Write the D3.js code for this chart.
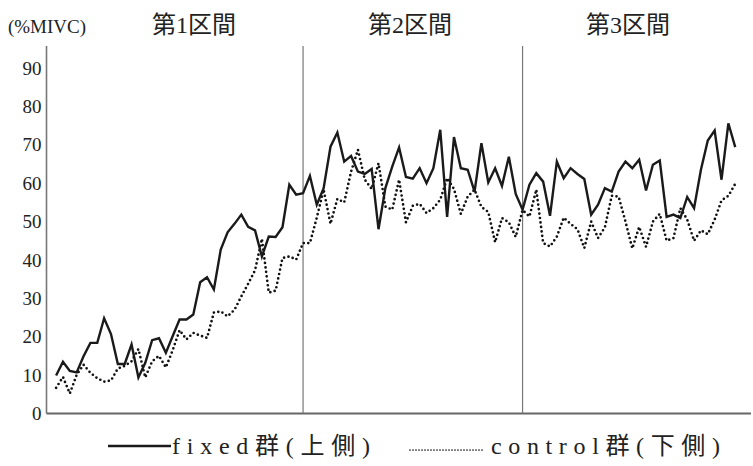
<!DOCTYPE html>
<html>
<head>
<meta charset="utf-8">
<script src="https://cdn.jsdelivr.net/npm/d3@7"></script>
<style>
  html, body { margin: 0; padding: 0; background: #fff; }
  svg { display: block; }
</style>
</head>
<body>
<svg id="chart" width="753" height="466"></svg>
<script>
// Muscle activity (%MIVC) over 100 samples, two groups
const fixedValues = [
  9.9, 13.5, 11.1, 10.7, 14.9, 18.4, 18.4, 24.8, 20.7, 12.9,
  12.9, 18.0, 9.4, 13.2, 19.1, 19.6, 15.8, 20.2, 24.5, 24.5,
  25.8, 34.2, 35.5, 32.3, 42.7, 47.2, 49.4, 51.8, 48.6, 47.7,
  40.9, 46.1, 46.0, 48.5, 59.6, 57.0, 57.4, 61.9, 54.4, 58.7,
  69.5, 73.2, 65.6, 67.1, 63.0, 62.4, 63.7, 48.0, 58.7, 64.3,
  69.3, 61.6, 61.2, 63.9, 60.0, 63.9, 73.9, 51.2, 72.0, 63.9,
  63.5, 57.8, 70.4, 60.2, 63.9, 59.3, 66.9, 57.2, 53.1, 59.6,
  62.6, 60.4, 51.5, 65.6, 61.3, 63.9, 62.4, 61.1, 51.8, 54.4,
  58.7, 57.8, 63.0, 65.6, 63.9, 66.1, 58.1, 64.8, 65.9, 51.2,
  51.8, 50.9, 56.4, 53.5, 63.5, 71.1, 73.7, 60.9, 75.6, 69.4
];
const controlValues = [
  6.7, 9.5, 5.2, 10.1, 12.7, 10.6, 9.2, 8.3, 8.6, 11.7,
  12.4, 13.6, 16.8, 9.4, 13.6, 15.0, 12.0, 16.5, 21.7, 19.3,
  21.0, 20.3, 19.7, 26.3, 26.6, 25.3, 27.0, 30.5, 33.8, 37.3,
  45.5, 31.5, 32.0, 40.5, 40.9, 40.1, 44.4, 44.4, 51.0, 58.3,
  49.4, 55.9, 55.0, 63.0, 68.7, 60.9, 58.5, 65.2, 53.9, 53.1,
  60.9, 49.8, 54.1, 54.6, 52.2, 53.5, 55.7, 61.3, 58.5, 52.0,
  56.5, 58.3, 53.8, 52.5, 44.6, 50.9, 49.8, 46.0, 53.0, 51.3,
  58.3, 44.4, 43.5, 46.1, 51.0, 49.4, 48.0, 43.1, 50.0, 45.7,
  48.5, 56.7, 56.5, 50.0, 43.0, 48.6, 43.4, 50.0, 52.0, 45.0,
  45.7, 53.5, 50.5, 45.0, 47.7, 46.7, 50.5, 55.5, 56.7, 59.8
];
const yTicks = [0, 10, 20, 30, 40, 50, 60, 70, 80, 90];
const sectionBounds = [36, 68];                    // sample index where each section ends
const sectionLabels = ["第1区間", "第2区間", "第3区間"];
const unitLabel = "(%MIVC)";
const legendLabels = ["fixed群(上側)", "control群(下側)"];

const svg = d3.select("#chart");
const plotLeft = 46.5, plotRight = 751, plotTop = 46, plotBottom = 413.5;

const x = d3.scaleLinear().domain([-1.4, 101.3]).range([plotLeft, plotRight]);
const y = d3.scaleLinear().domain([0, 90]).range([plotBottom, 68]);

const serif = "'Liberation Serif', 'DejaVu Serif', serif";
const cjk = "'Liberation Serif', 'Noto Sans CJK JP', serif";

// y axis: labels only, no tick marks
const yAxis = d3.axisLeft(y).tickValues(yTicks).tickSize(0).tickPadding(5);
const gY = svg.append("g").attr("transform", `translate(${plotLeft},0)`).call(yAxis);
gY.select(".domain").remove();
gY.selectAll("text")
  .attr("font-family", serif).attr("font-size", 19).attr("fill", "#222");

// axis lines
svg.append("line").attr("x1", plotLeft).attr("x2", plotLeft).attr("y1", plotTop).attr("y2", plotBottom)
  .attr("stroke", "#777").attr("stroke-width", 1.6);
svg.append("line").attr("x1", plotLeft).attr("x2", plotRight).attr("y1", plotBottom).attr("y2", plotBottom)
  .attr("stroke", "#666").attr("stroke-width", 1.8);

// section dividers
svg.selectAll("line.divider").data(sectionBounds).join("line")
  .attr("class", "divider")
  .attr("x1", d => x(d)).attr("x2", d => x(d))
  .attr("y1", plotTop).attr("y2", plotBottom)
  .attr("stroke", "#777").attr("stroke-width", 1.2);

// section titles
const titleX = [194, 410, 628];
svg.selectAll("text.section").data(sectionLabels).join("text")
  .attr("class", "section")
  .attr("x", (d, i) => titleX[i]).attr("y", 33)
  .attr("text-anchor", "middle")
  .attr("font-family", cjk).attr("font-size", 24).attr("fill", "#222")
  .text(d => d);

svg.append("text").attr("x", 8).attr("y", 33)
  .attr("font-family", serif).attr("font-size", 18).attr("fill", "#222")
  .attr("textLength", 78).attr("lengthAdjust", "spacingAndGlyphs")
  .text(unitLabel);

const line = d3.line().x((d, i) => x(i)).y(d => y(d));

// control group (dotted)
svg.append("path").datum(controlValues)
  .attr("d", line).attr("fill", "none")
  .attr("stroke", "#111").attr("stroke-width", 2.7)
  .attr("stroke-linecap", "round").attr("stroke-linejoin", "round")
  .attr("stroke-dasharray", "0 4.5");

// fixed group (solid)
svg.append("path").datum(fixedValues)
  .attr("d", line).attr("fill", "none")
  .attr("stroke", "#1a1a1a").attr("stroke-width", 2.4)
  .attr("stroke-linejoin", "miter");

// legend
const ly = 446;
svg.append("line").attr("x1", 108).attr("x2", 171).attr("y1", ly).attr("y2", ly)
  .attr("stroke", "#1a1a1a").attr("stroke-width", 2.4);
svg.append("text").attr("x", 172).attr("y", ly + 8)
  .attr("font-family", cjk).attr("font-size", 24).attr("fill", "#222")
  .attr("textLength", 198).attr("lengthAdjust", "spacing")
  .text(legendLabels[0]);
svg.append("line").attr("x1", 410).attr("x2", 484).attr("y1", ly + 4).attr("y2", ly + 4)
  .attr("stroke", "#1a1a1a").attr("stroke-width", 1.7)
  .attr("stroke-linecap", "round").attr("stroke-dasharray", "0 3");
svg.append("text").attr("x", 491).attr("y", ly + 8)
  .attr("font-family", cjk).attr("font-size", 24).attr("fill", "#222")
  .attr("textLength", 229).attr("lengthAdjust", "spacing")
  .text(legendLabels[1]);
</script>
</body>
</html>
